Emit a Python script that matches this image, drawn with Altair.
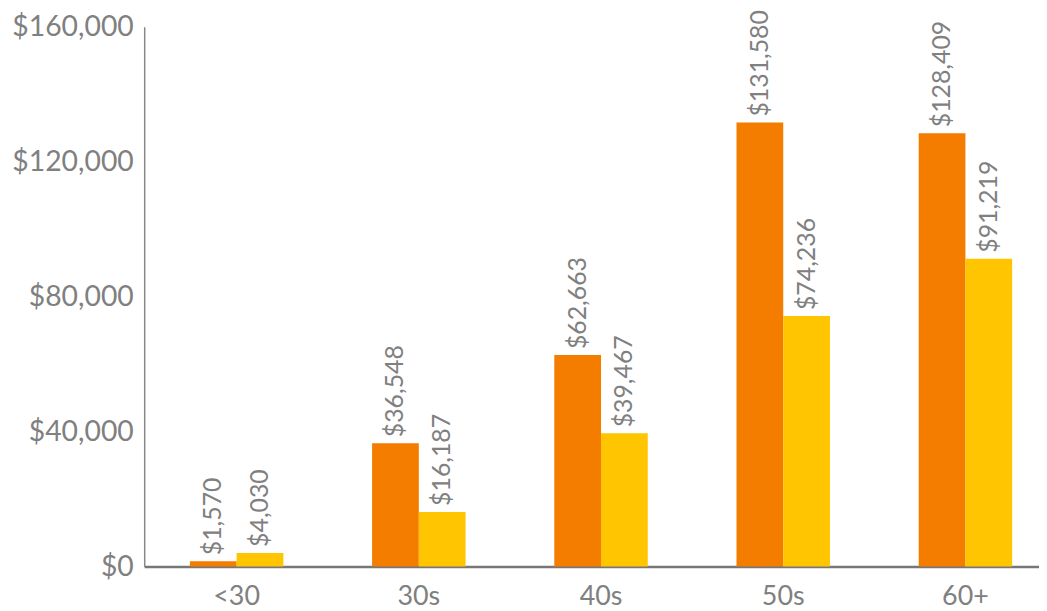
import altair as alt
import pandas as pd

categories = ["<30", "30s", "40s", "50s", "60+"]
series_names = ["A", "B"]
series_a = [1570, 36548, 62663, 131580, 128409]
series_b = [4030, 16187, 39467, 74236, 91219]
colors = ["#F47D00", "#FFC500"]

rows = []
for c, a, b in zip(categories, series_a, series_b):
    rows.append({"cat": c, "series": series_names[0], "value": a})
    rows.append({"cat": c, "series": series_names[1], "value": b})
df = pd.DataFrame(rows)

FONT = "Lato"
GREY = "#808080"

base = alt.Chart(df).encode(
    x=alt.X("cat:N", sort=categories, title=None,
            scale=alt.Scale(paddingInner=0.487, paddingOuter=0.199, align=0.63),
            axis=alt.Axis(labelAngle=0, labelFontSize=27, labelColor=GREY, labelFont=FONT,
                          ticks=False, labelPadding=17, domainColor="#777777", domainWidth=2.5)),
    xOffset=alt.XOffset("series:N", sort=series_names, scale=alt.Scale(paddingInner=0, paddingOuter=0)),
)

bars = base.mark_bar().encode(
    y=alt.Y("value:Q", title=None,
            scale=alt.Scale(domain=[0, 160000], nice=False),
            axis=alt.Axis(values=[0, 40000, 80000, 120000, 160000], format="$,.0f",
                          labelFontSize=28.5, labelColor=GREY, labelFont=FONT, grid=False,
                          ticks=False, labelPadding=11, domainColor="#888888", domainWidth=1.5)),
    color=alt.Color("series:N", sort=series_names,
                    scale=alt.Scale(domain=series_names, range=colors), legend=None),
)

labels = base.mark_text(angle=270, align="left", baseline="middle", dx=6,
                        fontSize=25, font=FONT, color=GREY).encode(
    y="value:Q",
    text=alt.Text("value:Q", format="$,.0f"),
)

chart = (bars + labels).properties(
    width=900, height=543,
    autosize=alt.AutoSizeParams(type="none"),
    padding={"top": 17, "left": 137, "right": 0, "bottom": 42},
).configure_view(stroke=None)

chart.save("out.html", embed_options={"renderer": "svg", "actions": False})
